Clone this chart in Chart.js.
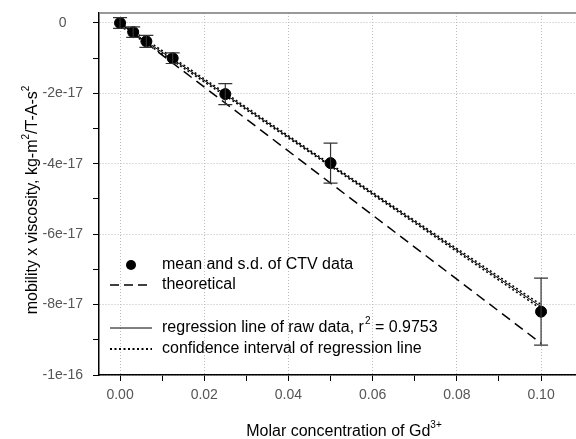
<!DOCTYPE html>
<html>
<head>
<meta charset="utf-8">
<script src="https://cdn.jsdelivr.net/npm/chart.js@4"></script>
<style>
  html, body { margin: 0; padding: 0; background: #fff; }
  #wrap { width: 576px; height: 439px; }
</style>
</head>
<body>
<div id="wrap"><canvas id="chart"></canvas></div>
<script>
// measured data (molar concentration vs mobility x viscosity)
var conc = [0, 0.003125, 0.00625, 0.0125, 0.025, 0.05, 0.1];
var meanVals = [0, -0.26e-17, -0.52e-17, -1.0e-17, -2.02e-17, -3.98e-17, -8.2e-17];
var sdVals = [0.15e-17, 0.15e-17, 0.17e-17, 0.15e-17, 0.3e-17, 0.57e-17, 0.95e-17];

// theoretical line
var theoX = [0, 0.1];
var theoY = [0, -9.1e-17];

// regression line and confidence interval
var regX = [0, 0.025, 0.05, 0.075, 0.1];
var regY = [-0.03e-17, -2.03e-17, -4.04e-17, -6.05e-17, -8.06e-17];
var ciUpper = [0.02e-17, -1.99e-17, -4.01e-17, -6.01e-17, -8.0e-17];
var ciLower = [-0.08e-17, -2.07e-17, -4.07e-17, -6.09e-17, -8.12e-17];

// ticks
var xTicks = [0, 0.01, 0.02, 0.03, 0.04, 0.05, 0.06, 0.07, 0.08, 0.09, 0.1];
var xTickLabels = ['0.00', '', '0.02', '', '0.04', '', '0.06', '', '0.08', '', '0.10'];
var yTicks = [0, -1e-17, -2e-17, -3e-17, -4e-17, -5e-17, -6e-17, -7e-17, -8e-17, -9e-17, -1e-16];
var yTickLabels = ['0', '', '-2e-17', '', '-4e-17', '', '-6e-17', '', '-8e-17', '', '-1e-16'];

// axis titles as [text, superscript] pieces
var xTitle = [['Molar concentration of Gd', false], ['3+', true]];
var yTitle = [['mobility x viscosity, kg-m', false], ['2', true], ['/T-A-s', false], ['2', true]];

var legendItems = [
  { text: 'mean and s.d. of CTV data', kind: 'point', y: 265 },
  { text: 'theoretical', kind: 'dash', y: 285 },
  { text: 'regression line of raw data, r', sup: '2', rest: ' = 0.9753', kind: 'solid', y: 328 },
  { text: 'confidence interval of regression line', kind: 'dot', y: 349 }
];

function pts(xs, ys) {
  return xs.map(function (x, i) { return { x: x, y: ys[i] }; });
}

var FONT = "'Liberation Sans', Arial, sans-serif";
var MAIN = '16px ' + FONT, SUP = '10px ' + FONT;

// draw pieces centred on (0,0) of the current transform
function drawPieces(ctx, pieces) {
  var w = 0;
  pieces.forEach(function (p) { ctx.font = p[1] ? SUP : MAIN; w += ctx.measureText(p[0]).width; });
  var x = -w / 2;
  pieces.forEach(function (p) {
    ctx.font = p[1] ? SUP : MAIN;
    ctx.fillText(p[0], x, p[1] ? -7 : 0);
    x += ctx.measureText(p[0]).width;
  });
}

var extras = {
  id: 'extras',
  beforeDatasetsDraw: function (chart) {
    var ctx = chart.ctx, a = chart.chartArea;
    ctx.save();
    ctx.strokeStyle = '#777';
    ctx.lineWidth = 1.5;
    ctx.beginPath();
    ctx.moveTo(a.left, a.top);
    ctx.lineTo(a.right, a.top);
    ctx.stroke();
    ctx.restore();
  },
  afterDatasetsDraw: function (chart) {
    var ctx = chart.ctx, xs = chart.scales.x, ys = chart.scales.y;
    ctx.save();
    // error bars
    ctx.strokeStyle = '#333';
    ctx.lineWidth = 1.2;
    conc.forEach(function (c, i) {
      var px = xs.getPixelForValue(c);
      var top = ys.getPixelForValue(meanVals[i] + sdVals[i]);
      var bot = ys.getPixelForValue(meanVals[i] - sdVals[i]);
      ctx.beginPath();
      ctx.moveTo(px, top); ctx.lineTo(px, bot);
      ctx.moveTo(px - 7, top); ctx.lineTo(px + 7, top);
      ctx.moveTo(px - 7, bot); ctx.lineTo(px + 7, bot);
      ctx.stroke();
    });
    // legend
    ctx.fillStyle = '#000';
    ctx.strokeStyle = '#000';
    ctx.textBaseline = 'middle';
    legendItems.forEach(function (it) {
      ctx.setLineDash([]);
      ctx.lineWidth = 1.5;
      if (it.kind === 'point') {
        ctx.beginPath();
        ctx.arc(131, it.y, 5, 0, Math.PI * 2);
        ctx.fill();
      } else {
        if (it.kind === 'dash') ctx.setLineDash([9, 5]);
        if (it.kind === 'dot') { ctx.setLineDash([2, 2.5]); ctx.lineWidth = 2; }
        if (it.kind === 'solid') ctx.lineWidth = 1;
        ctx.beginPath();
        ctx.moveTo(110, it.y); ctx.lineTo(152, it.y);
        ctx.stroke();
      }
      ctx.setLineDash([]);
      ctx.font = MAIN;
      ctx.fillText(it.text, 162, it.y);
      if (it.sup) {
        var x = 162 + ctx.measureText(it.text).width;
        ctx.font = SUP;
        ctx.fillText(it.sup, x + 1, it.y - 7);
        x += ctx.measureText(it.sup).width + 1;
        ctx.font = MAIN;
        ctx.fillText(it.rest, x, it.y);
      }
    });
    // axis titles
    ctx.textAlign = 'left';
    ctx.save();
    ctx.translate(344, 432);
    drawPieces(ctx, xTitle);
    ctx.restore();
    ctx.save();
    ctx.translate(33, 200);
    ctx.rotate(-Math.PI / 2);
    drawPieces(ctx, yTitle);
    ctx.restore();
    ctx.restore();
  }
};

new Chart(document.getElementById('chart'), {
  type: 'scatter',
  plugins: [extras],
  data: {
    datasets: [
      {
        label: 'theoretical',
        data: pts(theoX, theoY),
        showLine: true, borderColor: '#000', borderWidth: 1.5,
        borderDash: [10, 6], pointRadius: 0
      },
      {
        label: 'regression',
        data: pts(regX, regY),
        showLine: true, borderColor: '#000', borderWidth: 1,
        pointRadius: 0
      },
      {
        label: 'ci upper',
        data: pts(regX, ciUpper),
        showLine: true, borderColor: '#000', borderWidth: 1.5,
        borderDash: [2, 2.5], pointRadius: 0
      },
      {
        label: 'ci lower',
        data: pts(regX, ciLower),
        showLine: true, borderColor: '#000', borderWidth: 1.5,
        borderDash: [2, 2.5], pointRadius: 0
      },
      {
        label: 'mean and s.d. of CTV data',
        data: pts(conc, meanVals),
        backgroundColor: '#000', borderColor: '#000',
        pointRadius: 5.5
      }
    ]
  },
  options: {
    responsive: true,
    maintainAspectRatio: false,
    animation: false,
    layout: { autoPadding: false, padding: { top: 13, right: 0, left: 0, bottom: 0 } },
    plugins: { legend: { display: false }, tooltip: { enabled: false } },
    scales: {
      x: {
        type: 'linear',
        min: -0.005, max: 0.1083,
        afterBuildTicks: function (s) { s.ticks = xTicks.map(function (v) { return { value: v }; }); },
        afterFit: function (s) { s.height = 64; s.paddingLeft = 0; s.paddingRight = 0; },
        ticks: {
          callback: function (v, i) { return xTickLabels[i]; },
          color: '#555', font: { family: FONT, size: 14 }, padding: 6, maxRotation: 0, autoSkip: false
        },
        grid: {
          color: function (c) { return (c.tick && xTickLabels[c.index] !== '') ? '#bbb' : 'rgba(0,0,0,0)'; },
          tickColor: '#000', tickLength: 6, lineWidth: 1
        },
        border: { display: true, color: '#000', width: 1.5, dash: [1, 2] }
      },
      y: {
        type: 'linear',
        min: -1e-16, max: 0.284e-17,
        afterBuildTicks: function (s) { s.ticks = yTicks.map(function (v) { return { value: v }; }); },
        afterFit: function (s) { s.width = 99; s.paddingTop = 0; s.paddingBottom = 0; },
        ticks: {
          callback: function (v, i) { return yTickLabels[i]; },
          color: '#555', font: { family: FONT, size: 14 }, padding: 10, crossAlign: 'center', autoSkip: false
        },
        grid: {
          color: function (c) { return (c.tick && yTickLabels[c.index] !== '') ? '#bbb' : 'rgba(0,0,0,0)'; },
          tickColor: '#000', tickLength: 6, lineWidth: 1
        },
        border: { display: true, color: '#000', width: 1.5, dash: [1, 2] }
      }
    }
  }
});
</script>
</body>
</html>
